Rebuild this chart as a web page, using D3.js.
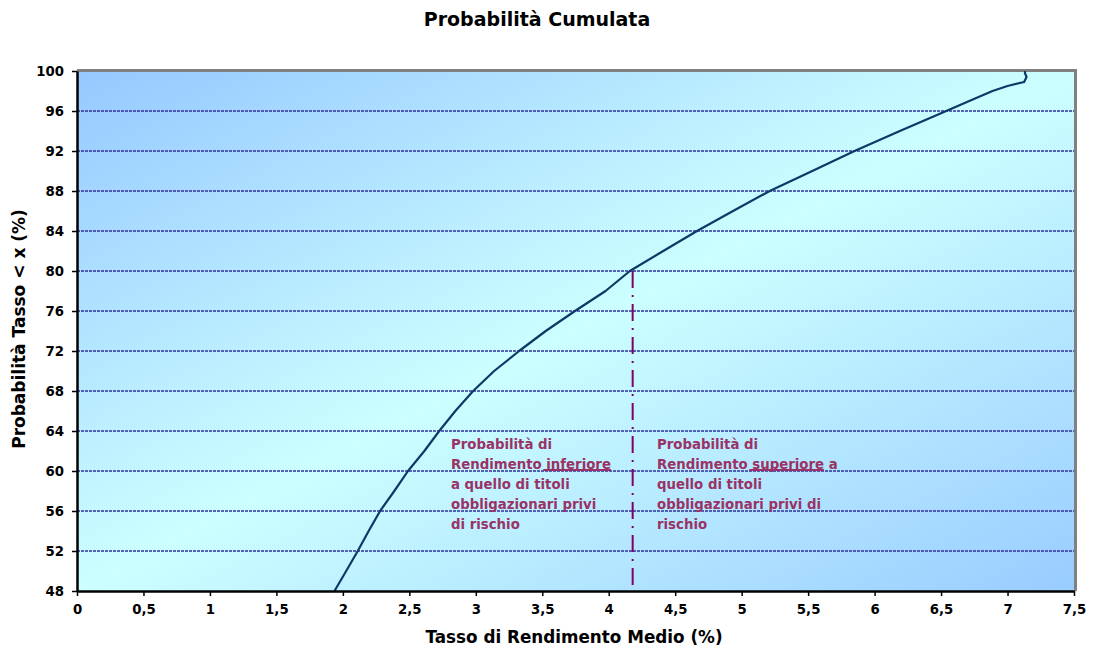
<!DOCTYPE html>
<html>
<head>
<meta charset="utf-8">
<script src="https://cdn.jsdelivr.net/npm/d3@7"></script>
<style>
  html, body { margin: 0; padding: 0; background: #ffffff; }
  svg { display: block; }
  text { font-family: "DejaVu Sans", Verdana, sans-serif; font-weight: bold; }
</style>
</head>
<body>
<svg id="chart" width="1093" height="655"></svg>
<script>
// Cumulative distribution of the average rate of return (%)
const rate = [1.937, 2.025, 2.112, 2.194, 2.28, 2.387, 2.49, 2.613, 2.725, 2.846,
              2.98, 3.138, 3.326, 3.526, 3.746, 3.976, 4.159, 4.41, 4.664, 4.935,
              5.211, 5.531, 5.849, 6.19, 6.539, 6.712, 6.887, 7.0, 7.125, 7.143, 7.131, 7.131];
const prob = [48, 50, 52, 54, 56, 58, 60, 62, 64, 66,
              68, 70, 72, 74, 76, 78, 80, 82, 84, 86,
              88, 90, 92, 94, 96, 97, 98, 98.5, 98.9, 99.4, 99.8, 100];

// Risk-free rate threshold and its cumulative probability
const riskFreeRate = 4.18;
const riskFreeProb = 80;

const xTicks = [0, 0.5, 1, 1.5, 2, 2.5, 3, 3.5, 4, 4.5, 5, 5.5, 6, 6.5, 7, 7.5];
const yTicks = [48, 52, 56, 60, 64, 68, 72, 76, 80, 84, 88, 92, 96, 100];

const leftNote = ["Probabilità di", "Rendimento inferiore", "a quello di titoli", "obbligazionari privi", "di rischio"];
const rightNote = ["Probabilità di", "Rendimento superiore  a", "quello di titoli", "obbligazionari privi di", "rischio"];

const svg = d3.select("#chart");
const plot = { left: 77, right: 1074, top: 71, bottom: 591 };

const x = d3.scaleLinear().domain([0, 7.5]).range([plot.left, plot.right]);
const y = d3.scaleLinear().domain([48, 100]).range([plot.bottom, plot.top]);

// Diagonal two-tone background: blue corners, cyan centre band
const defs = svg.append("defs");
const grad = defs.append("linearGradient")
  .attr("id", "bg").attr("x1", 0).attr("y1", 0).attr("x2", 1).attr("y2", 1);
grad.append("stop").attr("offset", "0%").attr("stop-color", "#96C8FF");
grad.append("stop").attr("offset", "50%").attr("stop-color", "#CCFFFF");
grad.append("stop").attr("offset", "100%").attr("stop-color", "#99CCFF");

svg.append("rect")
  .attr("x", plot.left).attr("y", plot.top)
  .attr("width", plot.right - plot.left).attr("height", plot.bottom - plot.top)
  .attr("fill", "url(#bg)");

// Horizontal gridlines
svg.append("g").selectAll("line")
  .data(yTicks.filter(d => d > 48 && d < 100))
  .join("line")
  .attr("x1", plot.left).attr("x2", plot.right)
  .attr("y1", d => y(d)).attr("y2", d => y(d))
  .attr("stroke", "#30309A").attr("stroke-width", 1.5)
  .attr("stroke-dasharray", "3,1");

// Frame (grey top and right edges)
svg.append("path")
  .attr("d", `M${plot.left},${plot.top - 0.5}H${plot.right + 1.5}V${plot.bottom}`)
  .attr("fill", "none").attr("stroke", "#808080").attr("stroke-width", 3);

// Cumulative curve
const line = d3.line().x((d, i) => x(rate[i])).y(d => y(d));
svg.append("path")
  .datum(prob)
  .attr("d", line)
  .attr("fill", "none")
  .attr("stroke", "#0B3A66")
  .attr("stroke-width", 2.2)
  .attr("stroke-linejoin", "round");

// Risk-free threshold marker
svg.append("line")
  .attr("x1", x(riskFreeRate)).attr("x2", x(riskFreeRate))
  .attr("y1", y(riskFreeProb)).attr("y2", y(48))
  .attr("stroke", "#800066").attr("stroke-width", 2)
  .attr("stroke-dasharray", "17,7,2,7");

// Axes
const fmt = d => String(d).replace(".", ",");
const xAxis = svg.append("g")
  .attr("transform", `translate(0,${plot.bottom})`)
  .call(d3.axisBottom(x).tickValues(xTicks).tickFormat(fmt).tickSize(5).tickPadding(9).tickSizeOuter(0));
const yAxis = svg.append("g")
  .attr("transform", `translate(${plot.left},0)`)
  .call(d3.axisLeft(y).tickValues(yTicks).tickSize(5).tickPadding(8).tickSizeOuter(0));

[xAxis, yAxis].forEach(g => {
  g.select(".domain").attr("stroke", "#000").attr("stroke-width", 2.5);
  g.selectAll(".tick line").attr("stroke", "#000").attr("stroke-width", 1.5);
  g.selectAll(".tick text")
    .attr("fill", "#000")
    .style("font-family", "'DejaVu Sans', Verdana, sans-serif")
    .style("font-weight", "bold")
    .style("font-size", "13.3px");
});

// Titles
svg.append("text")
  .attr("x", 537).attr("y", 26)
  .attr("text-anchor", "middle")
  .attr("font-size", 19)
  .attr("fill", "#000")
  .text("Probabilità Cumulata");

svg.append("text")
  .attr("x", 574).attr("y", 643)
  .attr("text-anchor", "middle")
  .attr("font-size", 16.8)
  .attr("fill", "#000")
  .text("Tasso di Rendimento Medio (%)");

svg.append("text")
  .attr("transform", "translate(25,329) rotate(-90)")
  .attr("text-anchor", "middle")
  .attr("font-size", 17)
  .attr("fill", "#000")
  .text("Probabilità Tasso < x (%)");

// Annotation blocks with underlined key word
function note(lines, x0, word) {
  const t = svg.append("text")
    .attr("x", x0).attr("y", 449)
    .attr("font-size", 13.3)
    .attr("fill", "#993366");
  t.selectAll("tspan")
    .data(lines)
    .join("tspan")
    .attr("x", x0)
    .attr("dy", (d, i) => i === 0 ? 0 : 20)
    .text(d => d);
  const span = t.selectAll("tspan").nodes()[1];
  const idx = lines[1].indexOf(word);
  const start = span.getSubStringLength(0, idx);
  const w = span.getSubStringLength(idx, word.length);
  svg.append("line")
    .attr("x1", x0 + start - 3).attr("x2", x0 + start + w)
    .attr("y1", 470).attr("y2", 470)
    .attr("stroke", "#993366").attr("stroke-width", 2.2);
}
note(leftNote, 451, "inferiore");
note(rightNote, 657, "superiore");
</script>
</body>
</html>
